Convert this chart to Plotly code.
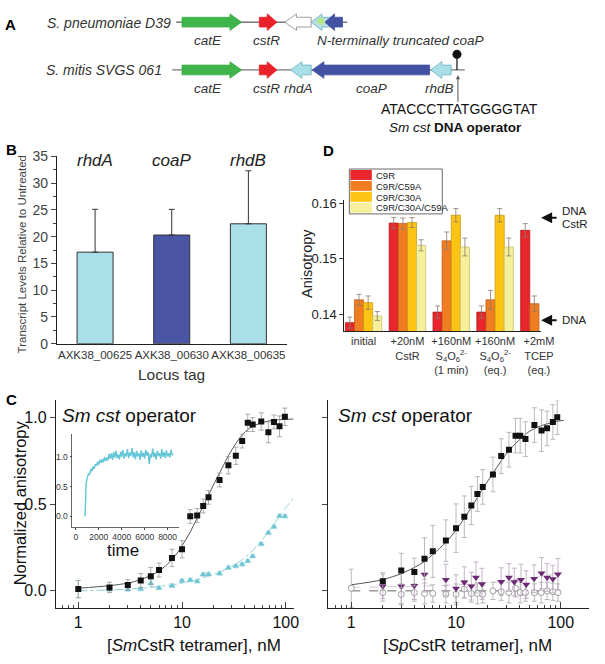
import plotly.graph_objects as go

W, H = 605, 664
FONT = "Liberation Sans, Arial, sans-serif"


def px(x):
    return x / W


def py(y):
    return 1 - y / H


# ---------------- Panel A data (gene map, genomic positions in map units) --------------
a_row1_label = "S. pneumoniae D39"
a_row1_tail = [186, 265, 318, 338, 350]
a_row1_head = [247, 283, 291, 318, 332]
a_row1_fill = ["#3fb44b", "#e8212a", "#ffffff", "#b5e0ea", "#4351a3"]
a_row1_names = ["catE", "cstR", "N-terminally truncated coaP"]
a_row1_name_x = [213, 272, 409]

a_row2_label = "S. mitis SVGS 061"
a_row2_tail = [186, 265, 318, 439, 461]
a_row2_head = [247, 283, 297, 319, 440]
a_row2_fill = ["#3fb44b", "#e8212a", "#a9dfe9", "#4351a3", "#a9dfe9"]
a_row2_names = ["catE", "cstR", "rhdA", "coaP", "rhdB"]
a_row2_name_x = [213, 272, 305, 380, 449]
a_operator_seq = "ATACCCTTATGGGGTAT"

# ---------------- Panel B data ----------------
b_loci = ["AXK38_00625", "AXK38_00630", "AXK38_00635"]
b_genes = ["rhdA", "coaP", "rhdB"]
b_values = [17.1, 20.3, 22.4]
b_err = [8.0, 4.8, 9.9]
b_colors = ["#a9dfe9", "#4a55a5", "#a9dfe9"]

# ---------------- Panel D data ----------------
d_conditions = [
    "initial",
    "+20nM<br>CstR",
    "+160nM<br>S<sub>4</sub>O<sub>6</sub><sup>2-</sup><br>(1 min)",
    "+160nM<br>S<sub>4</sub>O<sub>6</sub><sup>2-</sup><br>(eq.)",
    "+2mM<br>TCEP<br>(eq.)",
]
d_series = ["C9R", "C9R/C59A", "C9R/C30A", "C9R/C30A/C59A"]
d_values = [
    [0.1385, 0.1564, 0.1404, 0.1404, 0.1551],
    [0.1426, 0.1563, 0.1532, 0.1426, 0.1419],
    [0.1421, 0.1565, 0.1578, 0.1578, None],
    [0.1397, 0.1524, 0.1521, 0.1521, None],
]
d_errors = [
    [0.0010, 0.0010, 0.0011, 0.0011, 0.0012],
    [0.0010, 0.0010, 0.0016, 0.0017, 0.0014],
    [0.0012, 0.0009, 0.0012, 0.0012, None],
    [0.0008, 0.0010, 0.0016, 0.0016, None],
]
d_colors = ["#e8262c", "#f07d22", "#fdc413", "#f6f09a"]
d_edges = ["#b01c20", "#c0601a", "#c99a10", "#c8c278"]

# ---------------- Panel C left data ----------------
cl_conc = [1, 2, 3, 4, 5, 6, 8, 10, 12, 14, 16, 18, 23, 28, 33, 38, 43, 48, 58, 68, 77, 87, 98]
cl_sm = [0.01, 0.02, 0.034, 0.06, 0.085, 0.12, 0.19, 0.24, 0.43, 0.435, 0.49, 0.54, 0.64,
         0.725, 0.78, 0.865, 0.97, 0.96, 0.978, 0.915, 0.975, 0.95, 1.005]
cl_sm_err = [0.05, 0.03, 0.03, 0.04, 0.05, 0.04, 0.05, 0.05, 0.04, 0.04, 0.04, 0.04, 0.04,
             0.05, 0.05, 0.04, 0.05, 0.04, 0.05, 0.06, 0.04, 0.06, 0.05]
cl_cy = [0.01, 0.008, 0.008, 0.01, 0.044, 0.017, 0.03, 0.058, 0.062, 0.055, 0.094, 0.096,
         0.10, 0.134, 0.143, 0.153, 0.172, 0.20, 0.27, 0.336, 0.37, 0.432, 0.43]
cl_cy_err = [0.05, 0.01, 0.01, 0.01, 0.02, 0.01, 0.01, 0.01, 0.01, 0.01, 0.01, 0.01,
             0.01, 0.01, 0.01, 0.01, 0.01, 0.01, 0.01, 0.01, 0.01, 0.01, 0.01]
cl_fit_x = [1, 2, 3, 4, 5, 6, 8, 10, 12, 14, 16, 18, 20, 23, 28, 33, 38, 45, 55, 70, 85, 100, 119]
cl_fit_y = [0.015, 0.03, 0.045, 0.065, 0.09, 0.115, 0.18, 0.26, 0.34, 0.42, 0.49, 0.55, 0.61,
            0.68, 0.78, 0.85, 0.90, 0.94, 0.965, 0.982, 0.988, 0.99, 0.992]
cl_cyfit_x = [1, 2, 3, 5, 8, 10, 15, 20, 30, 40, 50, 60, 70, 80, 100, 119]
cl_cyfit_y = [0.0, 0.005, 0.01, 0.02, 0.035, 0.045, 0.07, 0.095, 0.14, 0.19, 0.245, 0.30,
              0.35, 0.40, 0.48, 0.535]

# ---------------- Inset data ----------------
in_time = [800, 820, 850, 900, 950, 1000, 1100, 1200, 1300, 1400, 1500, 1600, 1700, 1800,
           1900, 2000, 2100, 2200, 2300, 2400, 2500, 2600, 2700, 2800, 2900, 3000, 3100,
           3200, 3300, 3400, 3500, 3600, 3700, 3800, 3900, 4000, 4100, 4200, 4300, 4400,
           4500, 4600, 4700, 4800, 4900, 5000, 5100, 5200, 5300, 5400, 5500, 5600, 5700,
           5800, 5900, 6000, 6100, 6200, 6300, 6400, 6500, 6600, 6700, 6800, 6900, 7000,
           7100, 7200, 7300, 7400, 7500, 7600, 7700, 7800, 7900, 8000, 8100, 8200, 8300,
           8400, 8500]
in_signal = [0.00, 0.30, 0.45, 0.55, 0.62, 0.66, 0.72, 0.70, 0.80, 0.76, 0.84, 0.80, 0.88,
             0.85, 0.92, 0.87, 0.95, 0.90, 0.96, 0.91, 1.00, 0.93, 0.99, 0.94, 1.05, 0.97,
             1.06, 0.95, 1.08, 0.99, 1.10, 0.98, 1.04, 0.96, 1.09, 1.00, 1.12, 0.97, 1.06,
             1.01, 1.13, 0.98, 1.07, 1.02, 1.15, 0.99, 1.08, 0.96, 1.10, 1.01, 1.06, 0.95,
             1.11, 1.00, 1.07, 0.97, 1.12, 1.02, 1.08, 0.88, 1.05, 0.99, 1.14, 1.00, 1.07,
             0.96, 1.10, 1.02, 1.06, 0.97, 1.13, 1.00, 1.08, 0.98, 1.11, 1.01, 1.06, 0.99,
             1.12, 1.03, 1.05]

# ---------------- Panel C right data ----------------
cr_conc = [2, 3, 4, 5, 6, 8, 10, 12, 14, 16, 18, 22.5, 27, 32, 37, 41, 46, 56, 65.5, 74, 84, 92.5]
cr_sp = [0.055, 0.117, 0.109, 0.186, 0.228, 0.29, 0.362, 0.428, 0.493, 0.559, 0.60, 0.672,
         0.778, 0.815, 0.896, 0.896, 0.876, 0.957, 0.925, 0.938, 0.975, 1.002]
cr_sp_err = [0.05, 0.10, 0.08, 0.12, 0.15, 0.12, 0.14, 0.12, 0.11, 0.10, 0.10, 0.10,
             0.10, 0.10, 0.10, 0.10, 0.10, 0.10, 0.12, 0.10, 0.10, 0.10]
cr_fit_x = [1, 2, 3, 4, 5, 6, 8, 10, 12, 14, 16, 18, 22, 27, 32, 40, 50, 60, 80, 107]
cr_fit_y = [0.035, 0.065, 0.10, 0.135, 0.17, 0.21, 0.28, 0.35, 0.42, 0.48, 0.54, 0.59, 0.67,
            0.75, 0.81, 0.87, 0.92, 0.945, 0.97, 0.985]
cr_pu_conc = [2, 3, 4, 5, 8, 10, 12, 14, 15.5, 17.7, 27, 32, 36, 41.7, 46.8, 55.6, 65.5, 74, 84, 94]
cr_pu = [0.026, 0.026, 0.03, 0.094, 0.064, 0.013, 0.049, 0.027, 0.077, 0.04, 0.053, 0.077,
         0.051, 0.064, 0.036, 0.07, 0.102, 0.077, 0.068, 0.096]
cr_pu_err = [0.07, 0.10, 0.08, 0.10, 0.09, 0.08, 0.09, 0.08, 0.09, 0.09, 0.08, 0.08,
             0.08, 0.09, 0.08, 0.08, 0.09, 0.08, 0.08, 0.09]
cr_oc_conc = [1, 2, 3, 4, 5, 6, 8, 10, 12, 14, 16, 18, 22.5, 27, 32, 37, 41, 46, 56, 65, 74, 84, 94]
cr_oc = [0.015, -0.01, -0.02, -0.01, -0.015, -0.015, -0.02, -0.02, 0.01, -0.015, -0.015,
         -0.02, 0.0, -0.005, -0.01, 0.015, -0.01, -0.01, -0.01, -0.01, 0.0, -0.005, -0.01]
cr_oc_err = [0.11, 0.05, 0.06, 0.05, 0.06, 0.05, 0.05, 0.06, 0.05, 0.05, 0.06, 0.05, 0.05,
             0.05, 0.06, 0.05, 0.06, 0.05, 0.05, 0.06, 0.05, 0.05, 0.05]
cr_zero_x = [1, 100]
cr_zero_y = [0, 0]
cr_pufit_x = [1, 3, 10, 30, 60, 110]
cr_pufit_y = [0.02, 0.025, 0.035, 0.055, 0.08, 0.11]

fig = go.Figure()


# ---------------- Panel A drawing ----------------
def gene_poly(tail, head, yc, hb=5.0, hh=8.5):
    d = 1 if head > tail else -1
    L = min(12.0, 0.55 * abs(head - tail))
    neck = head - d * L
    xs = [tail, neck, neck, head, neck, neck, tail, tail]
    ys = [yc - hb, yc - hb, yc - hh, yc, yc + hh, yc + hb, yc + hb, yc - hb]
    return xs, ys


ROW1_Y, ROW2_Y = 14.5, 63.5
fig.add_trace(go.Scatter(x=[180, 355], y=[ROW1_Y, ROW1_Y], mode="lines",
                         line=dict(color="#333", width=1), xaxis="x6", yaxis="y6"))
fig.add_trace(go.Scatter(x=[176, 475], y=[ROW2_Y, ROW2_Y], mode="lines",
                         line=dict(color="#777", width=1.2), xaxis="x6", yaxis="y6"))
for tail, head, col in zip(a_row1_tail, a_row1_head, a_row1_fill):
    xs, ys = gene_poly(tail, head, ROW1_Y)
    edge = "#888" if col == "#ffffff" else ("#6aaebf" if col == "#b5e0ea" else col)
    fig.add_trace(go.Scatter(x=xs, y=ys, mode="lines", fill="toself", fillcolor=col,
                             line=dict(color=edge, width=0.8), xaxis="x6", yaxis="y6"))
fig.add_trace(go.Scatter(x=[328], y=[ROW1_Y - 1], mode="markers",
                         marker=dict(symbol="asterisk-open", size=7,
                                     line=dict(color="#e8212a", width=1.5)),
                         xaxis="x6", yaxis="y6"))
for tail, head, col in zip(a_row2_tail, a_row2_head, a_row2_fill):
    xs, ys = gene_poly(tail, head, ROW2_Y)
    edge = "#6aaebf" if col == "#a9dfe9" else col
    fig.add_trace(go.Scatter(x=xs, y=ys, mode="lines", fill="toself", fillcolor=col,
                             line=dict(color=edge, width=0.8), xaxis="x6", yaxis="y6"))
# terminator
fig.add_trace(go.Scatter(x=[467, 467], y=[ROW2_Y, 50], mode="lines",
                         line=dict(color="#111", width=1.2), xaxis="x6", yaxis="y6"))
fig.add_trace(go.Scatter(x=[467], y=[47.5], mode="markers",
                         marker=dict(size=9, color="#111"), xaxis="x6", yaxis="y6"))

ann = []


def A(x, y, text, size, **kw):
    d = dict(x=px(x), y=py(y), xref="paper", yref="paper", text=text, showarrow=False,
             font=dict(family=FONT, size=size, color=kw.pop("color", "#222")),
             xanchor=kw.pop("xanchor", "center"), yanchor=kw.pop("yanchor", "middle"))
    d.update(kw)
    ann.append(d)


A(11, 17, "<b>A</b>", 15, color="#000")
A(177, 15, "<i>%s</i>" % a_row1_label, 14, xanchor="right", color="#333")
A(168, 64, "<i>%s</i>" % a_row2_label, 14, xanchor="right", color="#333")
for n, x in zip(a_row1_names, a_row1_name_x):
    A(x, 33, "<i>%s</i>" % n, 13.5, color="#333")
for n, x in zip(a_row2_names, a_row2_name_x):
    A(x, 82, "<i>%s</i>" % n, 13.5, color="#333")
A(470, 103, a_operator_seq, 14, color="#111")
A(466, 122, "<i>Sm cst</i> <b>DNA operator</b>", 13.5, color="#111")
ann.append(dict(x=px(468), y=py(69), xref="paper", yref="paper", ax=0, ay=28,
                text="", showarrow=True, arrowhead=2, arrowsize=0.8, arrowwidth=1,
                arrowcolor="#555"))

# ---------------- Panel B ----------------
fig.add_trace(go.Bar(x=[0, 1, 2], y=b_values, width=0.47,
                     marker=dict(color=b_colors, line=dict(color="#333", width=1)),
                     error_y=dict(type="data", array=b_err, arrayminus=[0, 0, 0],
                                  symmetric=False, color="#333", thickness=1, width=3),
                     xaxis="x", yaxis="y"))
A(12, 145, "<b>B</b>", 15, color="#000")
for i, g in enumerate(b_genes):
    A(58 + (i + 0.5) * 78.3, 156, "<i>%s</i>" % g, 17, color="#222")
A(22, 253, "Transcript Levels Relative to Untreated", 11.5, textangle=-90, color="#444")
A(175, 376, "Locus tag", 15.5, color="#333")

# ---------------- Panel D ----------------
offsets = [-0.4165, -0.208, 0.0, 0.208]
for k in range(4):
    fig.add_trace(go.Bar(x=[0, 1, 2, 3, 4], y=d_values[k], width=0.208, offset=offsets[k],
                         marker=dict(color=d_colors[k], line=dict(color=d_edges[k], width=0.8)),
                         error_y=dict(type="data", array=d_errors[k], color="#8a7a70",
                                      thickness=0.8, width=2.5),
                         name=d_series[k], xaxis="x2", yaxis="y2"))
A(336, 146, "<b>D</b>", 15, color="#000")
A(313, 262, "Anisotropy", 14.5, textangle=-90, color="#222")
# legend (manual)
shapes = []
shapes.append(dict(type="rect", xref="paper", yref="paper", x0=px(357), x1=px(452),
                   y0=py(211), y1=py(165), line=dict(color="#444", width=0.8),
                   fillcolor="white", layer="above"))
for k, name in enumerate(d_series):
    y0 = 166 + k * 11.2
    shapes.append(dict(type="rect", xref="paper", yref="paper", x0=px(358), x1=px(380),
                       y0=py(y0 + 10.2), y1=py(y0), line=dict(width=0),
                       fillcolor=d_colors[k], layer="above"))
    A(382, y0 + 5.3, name, 9.5, xanchor="left", color="#222")
A(572, 208, "DNA", 11.5, xanchor="left", color="#222")
A(572, 221, "CstR", 11.5, xanchor="left", color="#222")
A(572, 320, "DNA", 11.5, xanchor="left", color="#222")
for yy in (215, 320):
    ann.append(dict(x=px(553), y=py(yy), xref="paper", yref="paper", ax=17, ay=0,
                    text="", showarrow=True, arrowhead=2, arrowsize=1.1, arrowwidth=2,
                    arrowcolor="#111"))

# ---------------- Panel C left ----------------
fig.add_trace(go.Scatter(x=cl_fit_x, y=cl_fit_y, mode="lines", line_shape="spline",
                         line=dict(color="#555", width=1), xaxis="x3", yaxis="y3"))
fig.add_trace(go.Scatter(x=cl_cyfit_x, y=cl_cyfit_y, mode="lines", line_shape="spline",
                         line=dict(color="#8fd0dc", width=1, dash="dashdot"),
                         xaxis="x3", yaxis="y3"))
fig.add_trace(go.Scatter(x=cl_conc, y=cl_cy, mode="markers",
                         marker=dict(symbol="triangle-up", size=6, color="#6cc5d3"),
                         error_y=dict(type="data", array=cl_cy_err, color="#9ad6e0",
                                      thickness=0.8, width=2.5),
                         xaxis="x3", yaxis="y3"))
fig.add_trace(go.Scatter(x=cl_conc, y=cl_sm, mode="markers",
                         marker=dict(symbol="square", size=6, color="#111"),
                         error_y=dict(type="data", array=cl_sm_err, color="#999",
                                      thickness=0.8, width=2.5),
                         xaxis="x3", yaxis="y3"))
A(12, 401, "<b>C</b>", 15, color="#000")
A(132, 418, "<i>Sm cst</i> operator", 19, color="#111")
A(20, 507, "Normalized anisotropy", 16.5, textangle=-90, color="#111")
A(198, 653, "[<i>Sm</i>CstR tetramer], nM", 17, color="#111")

# inset
fig.add_trace(go.Scatter(x=in_time, y=in_signal, mode="lines",
                         line=dict(color="#62c6d6", width=1.4), xaxis="x5", yaxis="y5"))
A(126, 556, "time", 17, color="#111")

# ---------------- Panel C right ----------------
fig.add_trace(go.Scatter(x=cr_zero_x, y=cr_zero_y, mode="lines",
                         line=dict(color="#666", width=1, dash="dash"), xaxis="x4", yaxis="y4"))
fig.add_trace(go.Scatter(x=cr_pufit_x, y=cr_pufit_y, mode="lines", line_shape="spline",
                         line=dict(color="#d9c3dc", width=1, dash="dash"),
                         xaxis="x4", yaxis="y4"))
fig.add_trace(go.Scatter(x=cr_fit_x, y=cr_fit_y, mode="lines", line_shape="spline",
                         line=dict(color="#555", width=1), xaxis="x4", yaxis="y4"))
fig.add_trace(go.Scatter(x=cr_oc_conc, y=cr_oc, mode="markers",
                         marker=dict(symbol="circle", size=6, color="white",
                                     line=dict(color="#888", width=0.8)),
                         error_y=dict(type="data", array=cr_oc_err, color="#aaa",
                                      thickness=0.8, width=2.5),
                         xaxis="x4", yaxis="y4"))
fig.add_trace(go.Scatter(x=cr_pu_conc, y=cr_pu, mode="markers",
                         marker=dict(symbol="triangle-down", size=7, color="#6b2a73"),
                         error_y=dict(type="data", array=cr_pu_err, color="#b9a2bd",
                                      thickness=0.8, width=2.5),
                         xaxis="x4", yaxis="y4"))
fig.add_trace(go.Scatter(x=cr_conc, y=cr_sp, mode="markers",
                         marker=dict(symbol="square", size=6, color="#111"),
                         error_y=dict(type="data", array=cr_sp_err, color="#aaa",
                                      thickness=0.8, width=2.5),
                         xaxis="x4", yaxis="y4"))
A(414, 418, "<i>Sm cst</i> operator", 19, color="#111")
A(478, 653, "[<i>Sp</i>CstR tetramer], nM", 17, color="#111")

# ---------------- Layout ----------------
axline = dict(showline=True, linecolor="#222", linewidth=1, zeroline=False, showgrid=False)
layout = dict(
    width=W, height=H, margin=dict(l=0, r=0, t=0, b=0),
    paper_bgcolor="white", plot_bgcolor="rgba(0,0,0,0)", showlegend=False,
    font=dict(family=FONT, color="#222"),
    annotations=ann, shapes=shapes,
    # B
    xaxis=dict(domain=[px(58), px(293)], anchor="y", range=[-0.5, 2.5],
               tickvals=[0, 1, 2], ticktext=b_loci, ticks="", tickfont=dict(size=11.5, color="#333"),
               **axline),
    yaxis=dict(domain=[py(344), py(152)], anchor="x", range=[0, 35], dtick=5,
               ticks="outside", ticklen=5, tickcolor="#444", tickfont=dict(size=14, color="#444"),
               minor=dict(dtick=2.5, ticks="outside", ticklen=3, tickcolor="#444"),
               **axline),
    # D
    xaxis2=dict(domain=[px(352), px(553)], anchor="y2", range=[-0.437, 4.05],
                tickvals=[0, 1, 2, 3, 4], ticktext=d_conditions, ticks="",
                tickfont=dict(size=11, color="#333"), **axline),
    yaxis2=dict(domain=[py(331), py(197)], anchor="x2", range=[0.137, 0.1605],
                tickvals=[0.14, 0.15, 0.16], ticktext=["0.14", "0.15", "0.16"],
                ticks="outside", ticklen=4, tickfont=dict(size=13, color="#222"), **axline),
    # C left
    xaxis3=dict(domain=[px(57), px(300)], anchor="y3", type="log", range=[-0.217, 2.075],
                tickvals=[1, 10, 100], ticktext=["1", "10", "100"], ticks="inside", ticklen=6,
                minor=dict(ticks="inside", ticklen=3, dtick="D1"),
                tickfont=dict(size=16, color="#111"), **axline),
    yaxis3=dict(domain=[py(615), py(402)], anchor="x3", range=[-0.1, 1.1],
                tickvals=[0, 0.5, 1.0], ticktext=["0.0", "0.5", "1.0"], ticks="outside",
                ticklen=5, tickfont=dict(size=16, color="#111"), **axline),
    # C right
    xaxis4=dict(domain=[px(335), px(602)], anchor="y4", type="log", range=[-0.224, 2.27],
                tickvals=[1, 10, 100], ticktext=["1", "10", "100"], ticks="inside", ticklen=6,
                minor=dict(ticks="inside", ticklen=3, dtick="D1"),
                tickfont=dict(size=16, color="#111"), **axline),
    yaxis4=dict(domain=[py(615), py(402)], anchor="x4", range=[-0.1, 1.1],
                tickvals=[0, 0.5, 1.0], showticklabels=False, ticks="outside",
                ticklen=5, **axline),
    # inset
    xaxis5=dict(domain=[px(74), px(183)], anchor="y5", range=[-300, 9000],
                tickvals=[0, 2000, 4000, 6000, 8000], ticks="outside", ticklen=2,
                tickfont=dict(size=8.5, color="#333"), showline=True, linecolor="#666",
                linewidth=0.8, zeroline=False, showgrid=False),
    yaxis5=dict(domain=[py(532), py(437)], anchor="x5", range=[-0.18, 1.377],
                tickvals=[0, 0.5, 1.0], ticktext=["0.0", "0.5", "1.0"], ticks="outside",
                ticklen=2, tickfont=dict(size=8.5, color="#333"), showline=True,
                linecolor="#666", linewidth=0.8, zeroline=False, showgrid=False),
    # panel A canvas
    xaxis6=dict(domain=[0, 1], anchor="y6", range=[0, W], visible=False),
    yaxis6=dict(domain=[py(140), 1], anchor="x6", range=[140, 0], visible=False),
)
fig.update_layout(**layout)
fig.write_html("out.html", config={"displayModeBar": False},
               post_script="document.body.style.margin='0px';document.body.style.overflow='hidden';")
